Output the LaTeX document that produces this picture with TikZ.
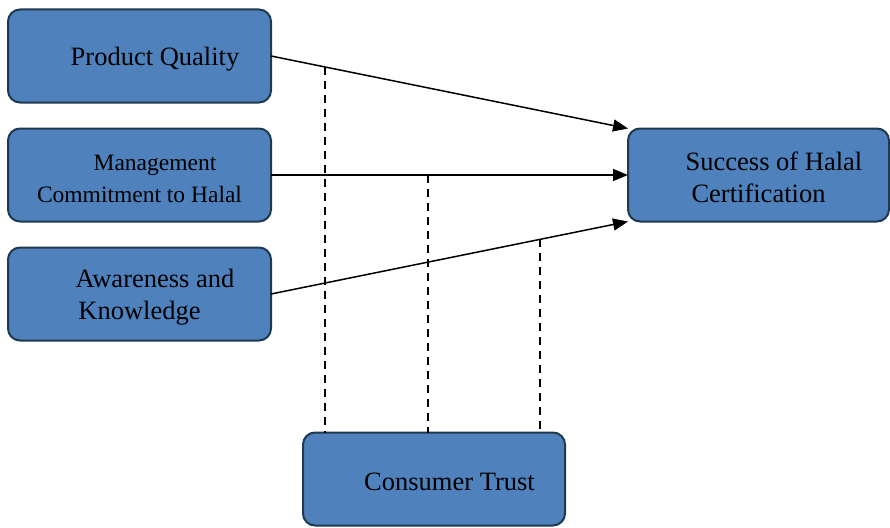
\documentclass[tikz,border=0pt]{standalone}
\usepackage{fontspec}
\setmainfont{Liberation Serif}
\usetikzlibrary{arrows.meta,positioning}
\definecolor{boxblue}{HTML}{4F81BD}
\definecolor{boxedge}{HTML}{1F3A4F}
\newcommand{\firstind}{\rule{0pt}{24pt}\hspace*{31pt}}
\tikzset{
    %Define standard arrow tip
    >={Triangle[length=15pt,width=12pt]},
    %Define style for boxes
    factor/.style={
           rectangle,
           rounded corners=12pt,
           draw=boxedge, line width=2pt,
           fill=boxblue,
           outer sep=0pt,
           minimum width=263pt,
           minimum height=93pt,
           align=center,
           font=\fontsize{26.5}{32}\selectfont},
    % Define arrow style
    pil/.style={
           ->,
           line width=1.5pt},
    link/.style={
           line width=1.5pt,
           dash pattern=on 8pt off 6pt}
}
\begin{document}
\begin{tikzpicture}[x=1pt,y=1pt,node distance=26pt]
\useasboundingbox (0,0) rectangle (890,-527);

 %nodes
\node[factor] (pq) at (139.5,-56) {\firstind Product Quality};
\node[factor, below=of pq, font=\fontsize{23.5}{32}\selectfont] (mc) {\firstind Management\\Commitment to Halal};
\node[factor, below=of mc] (ak) {\firstind Awareness and\\Knowledge};
\node[factor, right=357pt of mc, minimum width=261pt] (sh) {\firstind Success of Halal\\Certification};
\node[factor, below right=92pt and 32pt of ak, minimum width=262pt] (ct) {\firstind Consumer Trust};

 %arrows
\draw[pil] (pq.east) -- coordinate[pos=0.151] (t1) (sh.north west);
\draw[pil] (mc.east) -- coordinate[pos=0.44] (t2) (sh.west);
\draw[pil] (ak.east) -- coordinate[pos=0.753] (t3) (sh.south west);

 %moderation
\draw[link] (t1) -- (t1 |- ct.north);
\draw[link] (t2) -- (t2 |- ct.north);
\draw[link] (t3) -- (t3 |- ct.north);

\end{tikzpicture}
\end{document}
